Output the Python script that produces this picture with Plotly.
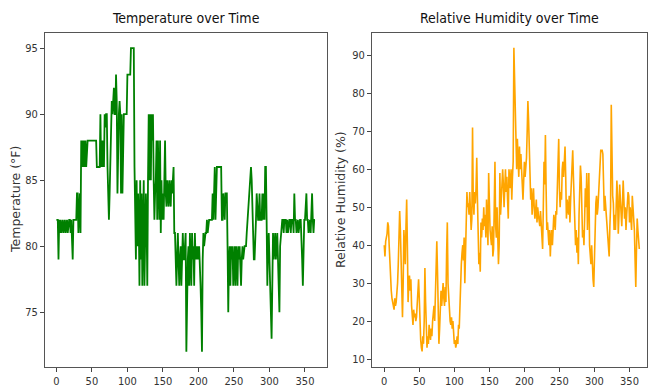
import plotly.graph_objects as go

days = list(range(365))

temperature_f = [
    82,82,82,79,82,81,82,81,82,82,
    81,82,82,81,82,82,81,82,82,82,
    81,82,79,79,82,82,82,82,82,84,
    84,81,82,84,81,88,86,88,86,88,
    86,88,86,88,88,88,88,88,88,88,
    88,88,88,88,88,88,88,86,86,86,
    86,86,90,86,88,86,88,86,90,89,
    90,90,86,84,82,84,86,90,91,90,
    91,92,90,90,93,91,84,90,90,91,
    90,84,90,84,90,90,90,90,90,90,
    93,93,93,93,93,95,95,95,95,95,
    86,82,79,85,80,84,82,77,85,79,
    84,77,82,85,77,80,84,82,77,85,
    90,85,90,85,90,88,90,85,82,84,
    85,88,82,88,83,82,88,81,85,82,
    84,82,85,88,84,83,85,84,83,85,
    84,83,85,84,85,86,81,81,79,77,
    79,81,79,77,79,80,77,79,81,79,
    79,80,81,72,77,79,80,77,81,79,
    77,81,79,80,77,81,79,80,79,80,
    79,80,79,77,75,72,79,81,80,81,
    81,81,82,81,82,82,82,82,82,82,
    84,82,84,86,82,86,86,86,86,86,
    86,86,86,82,82,84,82,82,84,84,
    84,80,75,79,80,77,80,79,80,77,
    79,80,77,80,79,77,80,79,80,79,
    77,79,80,79,80,80,80,80,81,82,
    82,83,84,85,86,85,82,80,79,79,
    82,82,84,82,82,82,84,82,82,82,
    84,82,84,82,86,86,82,77,80,81,
    79,77,75,73,77,81,79,80,81,79,
    80,81,79,77,75,80,81,82,82,82,
    81,82,82,82,81,82,81,82,82,82,
    81,82,82,82,81,84,82,82,81,82,
    82,81,82,82,82,81,79,77,81,82,
    82,84,84,82,82,81,82,82,81,82,
    84,82,81,82,82,
]

humidity_pct = [
    40,37,41,42,43,46,45,40,35,31,
    28,26,25,24,23,26,24,25,27,30,
    35,42,49,44,33,25,21,30,44,40,
    35,45,52,40,25,30,32,28,31,24,
    20,19,23,21,22,20,21,24,27,31,
    26,18,15,13,12,16,14,20,34,25,
    15,13,16,14,19,17,15,18,16,20,
    22,24,20,26,35,41,33,22,14,18,
    25,28,24,27,30,26,24,29,25,38,
    46,30,25,22,20,19,21,18,20,17,
    14,15,13,14,16,14,19,18,25,30,
    35,38,40,36,42,30,38,45,54,50,
    51,48,54,49,44,47,71,52,48,54,
    51,55,63,52,44,35,38,33,46,42,
    47,44,50,45,48,42,52,43,40,59,
    46,44,42,40,45,37,39,48,62,45,
    42,50,44,35,40,59,48,53,58,60,
    56,50,55,60,54,58,52,47,60,57,
    55,60,52,58,62,92,84,73,65,60,
    68,62,58,66,60,64,57,56,52,60,
    62,58,60,63,70,78,73,65,56,52,
    55,48,52,55,50,47,49,52,46,50,
    48,47,45,49,46,44,39,50,62,56,
    69,55,44,46,42,40,44,37,42,44,
    40,44,48,46,44,49,48,55,60,68,
    55,50,54,52,60,62,58,61,66,58,
    47,52,50,48,53,46,52,56,60,65,
    58,52,46,40,44,38,42,35,48,55,
    61,58,46,42,44,40,47,55,50,59,
    44,50,59,40,38,35,40,33,31,29,
    38,45,51,53,48,50,55,60,64,65,
    65,65,64,58,49,53,50,46,44,40,
    38,37,45,50,77,60,53,51,44,48,
    44,50,57,53,43,48,56,52,47,45,
    51,57,52,47,50,44,48,51,54,53,
    46,50,47,44,53,50,46,44,36,29,
    39,47,44,41,39,
]

x_ticks = [0, 50, 100, 150, 200, 250, 300, 350]
temp_ticks = [75, 80, 85, 90, 95]
hum_ticks = [10, 20, 30, 40, 50, 60, 70, 80, 90]

titles = ["Temperature over Time", "Relative Humidity over Time"]
y_titles = ["Temperature (°F)", "Relative Humidity (%)"]

W, H = 650, 390
tick_font = dict(family="DejaVu Sans Condensed, Liberation Sans Narrow, Liberation Sans", size=11, color="#333333")
title_font = dict(family="DejaVu Sans Condensed, Liberation Sans Narrow, Liberation Sans", size=14, color="#111111")
label_font = dict(family="DejaVu Sans, Liberation Sans", size=12.5, color="#333333")

fig = go.Figure()
fig.add_trace(go.Scatter(x=days, y=temperature_f, mode="lines",
                         line=dict(color="green", width=1.8), xaxis="x", yaxis="y",
                         showlegend=False))
fig.add_trace(go.Scatter(x=days, y=humidity_pct, mode="lines",
                         line=dict(color="orange", width=1.6), xaxis="x2", yaxis="y2",
                         showlegend=False))

ydom = [1 - 367 / H, 1 - 33 / H]
axis_common = dict(showgrid=False, zeroline=False, showline=True, mirror=True,
                   linecolor="#555555", linewidth=1, ticks="outside", ticklen=4,
                   tickcolor="#444444", tickfont=tick_font)

fig.update_layout(
    width=W, height=H, autosize=False,
    margin=dict(l=0, r=0, t=0, b=0),
    paper_bgcolor="white", plot_bgcolor="white",
    xaxis=dict(domain=[45 / W, 327 / W], range=[-16, 381], tickvals=x_ticks,
               anchor="y", **axis_common),
    yaxis=dict(domain=ydom, range=[70.85, 96.15], tickvals=temp_ticks,
               anchor="x", **axis_common),
    xaxis2=dict(domain=[372 / W, 647 / W], range=[-17.5, 375], tickvals=x_ticks,
                anchor="y2", **axis_common),
    yaxis2=dict(domain=ydom, range=[7.9, 95.9], tickvals=hum_ticks,
                anchor="x2", **axis_common),
)

centers = [(45 + 327) / 2 / W, (372 + 647) / 2 / W]
for cx, t in zip(centers, titles):
    fig.add_annotation(x=cx, y=1 - 18 / H, xref="paper", yref="paper", text=t,
                       showarrow=False, font=title_font, xanchor="center", yanchor="middle")

for px, t in zip([16, 341], y_titles):
    fig.add_annotation(x=px / W, y=1 - 200 / H, xref="paper", yref="paper", text=t,
                       textangle=-90, showarrow=False, font=label_font,
                       xanchor="center", yanchor="middle")

fig.write_html("out.html")
